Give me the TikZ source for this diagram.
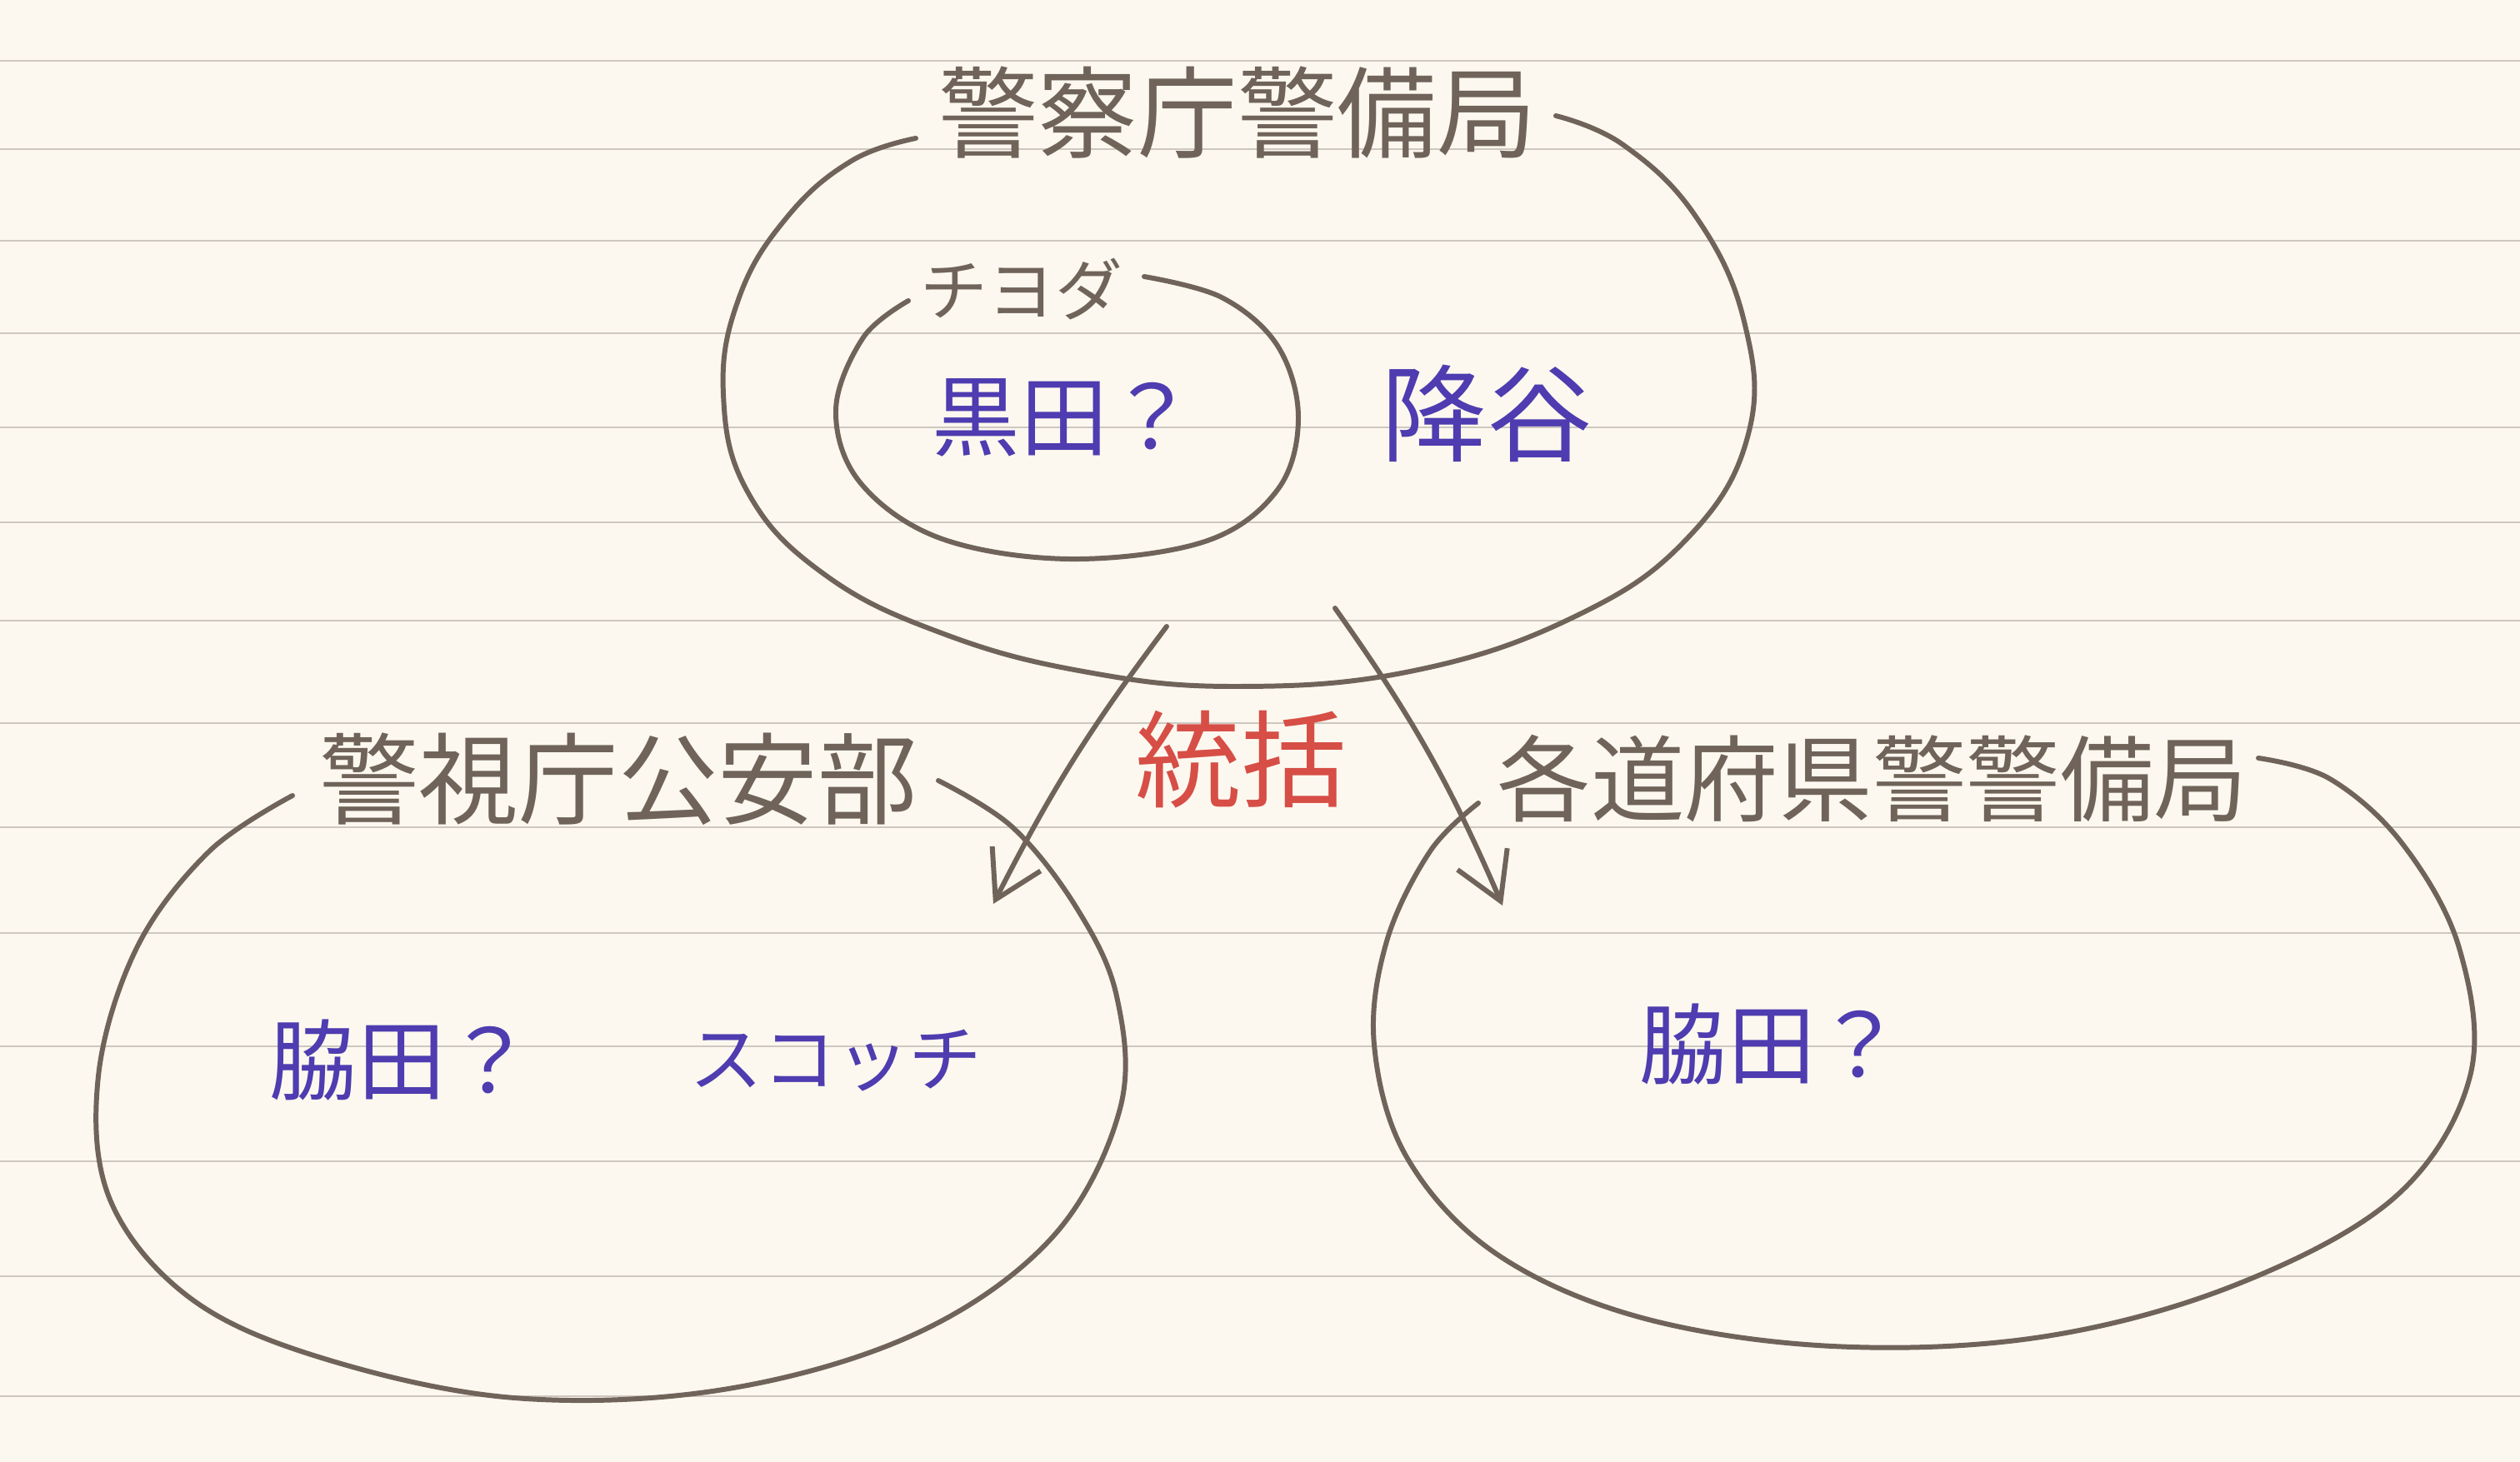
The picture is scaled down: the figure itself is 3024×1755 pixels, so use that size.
\documentclass[tikz,border=0pt]{standalone}
\usepackage{fontspec}
\setmainfont{Noto Sans CJK JP}
\usetikzlibrary{arrows.meta}
\definecolor{paper}{RGB}{252,248,239}
\definecolor{ruling}{RGB}{205,199,192}
\definecolor{pencil}{RGB}{112,100,90}
\definecolor{blueink}{RGB}{78,60,176}
\definecolor{redink}{RGB}{214,78,70}
\tikzset{
  ruleline/.style={line width=0.6pt, ruling},
  loopline/.style={line width=1.7pt, pencil, line cap=round, line join=round},
  arrowline/.style={line width=1.7pt, pencil, line cap=round,
    -{Straight Barb[length=0.55cm, width=0.65cm]}},
  title/.style={text=pencil, inner sep=0pt, font=\fontsize{34}{34}\selectfont},
  member/.style={text=blueink, inner sep=0pt, font=\fontsize{30}{30}\selectfont},
}
\begin{document}
\begin{tikzpicture}[x=0.01cm, y=-0.01cm]
            \fill[paper] (0,0) rectangle (3024,1755);
            \useasboundingbox (0,0) rectangle (3024,1755);
            \foreach \ry in {73,179,289,400,513,627,745,868,993,1120,1256,1394,1532,1676}
              \draw[ruleline] (0,\ry) -- (3024,\ry);
            % 警察庁警備局
            \draw[loopline] plot[smooth, tension=0.7] coordinates {(1099,166) (1022,193) (945,260) (887,357) (868,473) (898,592) (990,690) (1130,760) (1300,806) (1485,824) (1697,805) (1890,740) (2025,646) (2098,521) (2093,386) (2035,260) (1948,174) (1867,139)};
            % チヨダ
            \draw[loopline] plot[smooth, tension=0.6] coordinates {(1373,332) (1466,357) (1533,415) (1558,501) (1533,588) (1446,650) (1283,671) (1128,646) (1032,579) (1003,492) (1036,405) (1090,361)};
            % 警視庁公安部
            \draw[loopline] plot[smooth, tension=0.6] coordinates {(351,955) (251,1022) (164,1138) (118,1292) (132,1440) (228,1558) (386,1630) (617,1678) (868,1668) (1099,1601) (1263,1485) (1344,1331) (1340,1196) (1292,1090) (1215,993) (1126,937)};
            % 各道府県警警備局
            \draw[loopline] plot[smooth, tension=0.6] coordinates {(1774,964) (1716,1022) (1664,1130) (1649,1254) (1688,1389) (1794,1504) (1967,1581) (2199,1616) (2449,1605) (2681,1543) (2874,1437) (2964,1292) (2951,1138) (2883,1013) (2796,935) (2710,910)};
            \node[title] (keisatsu) at (1485,135) {警察庁警備局};
            \node[text=pencil, inner sep=0pt, font=\fontsize{23}{23}\selectfont] (chiyoda) at (1226,347) {チヨダ};
            \node[member] (kuroda) at (1277,501) {黒田？};
            \node[member, font=\fontsize{36}{36}\selectfont] (furuya) at (1784,496) {降谷};
            \node[text=redink, inner sep=0pt, font=\fontsize{36}{36}\selectfont] (tokatsu) at (1489,912) {統括};
            \node[title] (koanbu) at (742,935) {警視庁公安部};
            \node[title, font=\fontsize{32}{32}\selectfont] (kenkei) at (2247,935) {各道府県警警備局};
            \node[member] (wakitaL) at (482,1273) {脇田？};
            \node[member, font=\fontsize{25}{25}\selectfont] (scotch) at (1003,1273) {スコッチ};
            \node[member] (wakitaR) at (2126,1254) {脇田？};
            \coordinate (fromL) at (1400,752);
            \coordinate (toL) at (1192,1085);
            \coordinate (fromR) at (1602,730);
            \coordinate (toR) at (1803,1087);
            \draw[arrowline] (fromL) to[bend right=5] (toL);
            \draw[arrowline] (fromR) to[bend left=6] (toR);
        \end{tikzpicture}
\end{document}
